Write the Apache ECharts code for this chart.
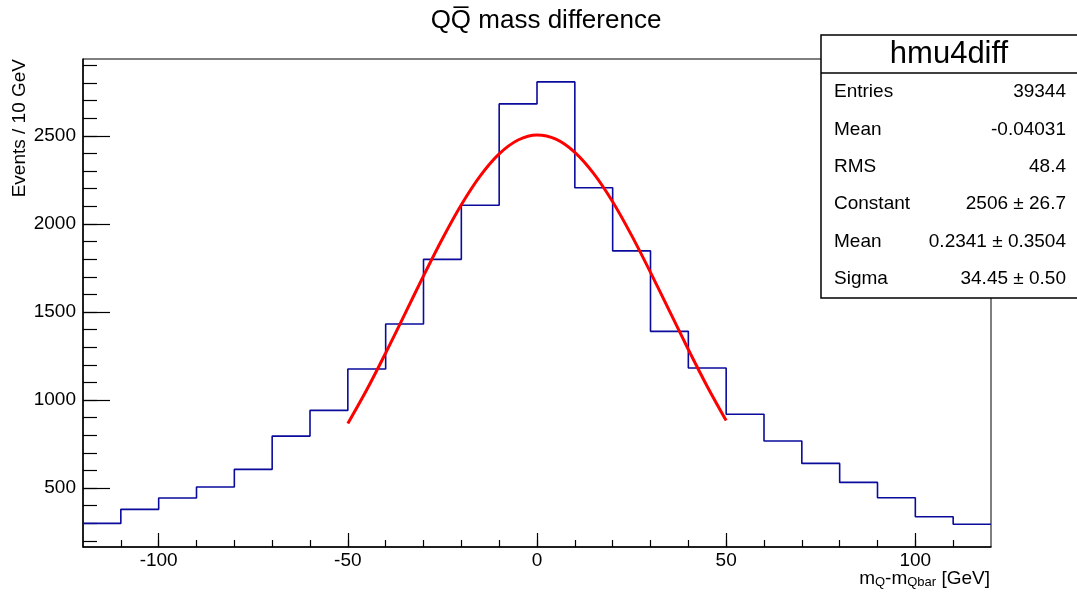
<!DOCTYPE html>
<html><head><meta charset="utf-8">
<script src="https://cdn.jsdelivr.net/npm/echarts@6/dist/echarts.min.js"></script>
<style>html,body{margin:0;padding:0;background:#fff}#c{width:1077px;height:592px}</style>
</head><body><div id="c"></div>
<script>
const binEdges = [-120,-110,-100,-90,-80,-70,-60,-50,-40,-30,-20,-10,0,10,20,30,40,50,60,70,80,90,100,110,120];
const counts = [299,379,443,506,606,795,941,1176,1432,1799,2106,2682,2807,2206,1847,1390,1182,919,767,640,532,445,337,294];
const fitX = [-50,-45,-40,-35,-30,-25,-20,-15,-10,-5,0,5,10,15,20,25,30,35,40,45,50];
const fitY = [866,1058,1267,1485,1705,1916,2109,2273,2398,2477,2506,2482,2407,2286,2126,1935,1725,1506,1287,1077,883];
const xMajorTicks = [-100,-50,0,50,100];
const xMinorTicks = [-110,-100,-90,-80,-70,-60,-50,-40,-30,-20,-10,0,10,20,30,40,50,60,70,80,90,100,110];
const yMajorTicks = [500,1000,1500,2000,2500];
const yMinorTicks = [200,300,400,500,600,700,800,900,1000,1100,1200,1300,1400,1500,1600,1700,1800,1900,2000,2100,2200,2300,2400,2500,2600,2700,2800,2900];
const statTitle = 'hmu4diff';
const statLabels = ['Entries','Mean','RMS','Constant','Mean','Sigma'];
const statValues = ['39344','-0.04031','48.4','2506 \u00b1 26.7','0.2341 \u00b1 0.3504','34.45 \u00b1 0.50'];
const chartTitle = 'QQ\u0305 mass difference';
const yTitle = 'Events / 10 GeV';

const FONT = 'Liberation Sans';
const X_MIN = -120, X_MAX = 120, Y_MIN = 165, Y_MAX = 2937;

const histPoints = binEdges.map((e, i) => [e, counts[Math.min(i, counts.length - 1)]]);
const fitPoints = fitX.map((x, i) => [x, fitY[i]]);

const chart = echarts.init(document.getElementById('c'), null, {renderer: 'canvas'});

const statGraphics = [];
statGraphics.push({type: 'rect', z: 100, shape: {x: 821, y: 35, width: 270, height: 263},
  style: {fill: '#fff', stroke: '#000', lineWidth: 1.5}});
statGraphics.push({type: 'line', z: 101, shape: {x1: 821, y1: 73, x2: 1077, y2: 73},
  style: {stroke: '#000', lineWidth: 1.5}});
statGraphics.push({type: 'text', z: 102, x: 949, y: 54,
  style: {text: statTitle, font: '31px "' + FONT + '"', fill: '#000', textAlign: 'center', textVerticalAlign: 'middle'}});
statLabels.forEach((l, i) => {
  const y = 92 + i * 37.4;
  statGraphics.push({type: 'text', z: 102, x: 834, y: y,
    style: {text: l, font: '19px "' + FONT + '"', fill: '#000', textAlign: 'left', textVerticalAlign: 'middle'}});
  statGraphics.push({type: 'text', z: 102, x: 1066, y: y,
    style: {text: statValues[i], font: '19px "' + FONT + '"', fill: '#000', textAlign: 'right', textVerticalAlign: 'middle'}});
});

const plainNum = v => String(v);

const option = {
  backgroundColor: '#fff',
  animation: false,
  grid: {left: 83, right: 86, top: 59, bottom: 45, show: true, borderColor: '#000', borderWidth: 1, backgroundColor: 'transparent'},
  xAxis: [
    {type: 'value', min: X_MIN, max: X_MAX, position: 'bottom',
     axisLine: {show: true, onZero: false, lineStyle: {color: '#000', width: 1.5}},
     axisTick: {show: true, inside: true, length: 14, customValues: xMajorTicks, lineStyle: {color: '#000', width: 1.2}},
     axisLabel: {show: true, customValues: xMajorTicks, formatter: plainNum, color: '#000', fontFamily: FONT, fontSize: 19, margin: 4},
     splitLine: {show: false}},
    {type: 'value', min: X_MIN, max: X_MAX, position: 'bottom',
     axisLine: {show: false, onZero: false},
     axisTick: {show: true, inside: true, length: 7, customValues: xMinorTicks, lineStyle: {color: '#000', width: 1.2}},
     axisLabel: {show: false},
     splitLine: {show: false}}
  ],
  yAxis: [
    {type: 'value', min: Y_MIN, max: Y_MAX, position: 'left',
     axisLine: {show: true, onZero: false, lineStyle: {color: '#000', width: 1.5}},
     axisTick: {show: true, inside: true, length: 27, customValues: yMajorTicks, lineStyle: {color: '#000', width: 1.2}},
     axisLabel: {show: true, customValues: yMajorTicks, formatter: plainNum, color: '#000', fontFamily: FONT, fontSize: 19, margin: 7},
     splitLine: {show: false}},
    {type: 'value', min: Y_MIN, max: Y_MAX, position: 'left',
     axisLine: {show: false, onZero: false},
     axisTick: {show: true, inside: true, length: 14, customValues: yMinorTicks, lineStyle: {color: '#000', width: 1.2}},
     axisLabel: {show: false},
     splitLine: {show: false}}
  ],
  series: [
    {type: 'line', name: 'hist', xAxisIndex: 0, yAxisIndex: 0, data: histPoints, step: 'end',
     showSymbol: false, symbol: 'none', lineStyle: {color: '#0a0a9c', width: 1.6}, z: 3},
    {type: 'line', name: 'fit', xAxisIndex: 0, yAxisIndex: 0, data: fitPoints, smooth: 0.3,
     showSymbol: false, symbol: 'none', lineStyle: {color: '#ff0000', width: 3}, z: 4}
  ],
  graphic: [
    {type: 'text', x: 546, y: 21,
     style: {text: chartTitle, font: '26px "' + FONT + '"', fill: '#000', textAlign: 'center', textVerticalAlign: 'middle'}},
    {type: 'text', x: 20, y: 59, rotation: Math.PI / 2,
     style: {text: yTitle, font: '19px "' + FONT + '"', fill: '#000', textAlign: 'right', textVerticalAlign: 'middle'}},
    {type: 'text', x: 990, y: 569,
     style: {text: '{n|m}{s|Q}{n|-m}{s|Qbar}{n| [GeV]}', textAlign: 'right', textVerticalAlign: 'top',
       rich: {
         n: {fontFamily: FONT, fontSize: 19, lineHeight: 20, verticalAlign: 'top', fill: '#000'},
         s: {fontFamily: FONT, fontSize: 13, lineHeight: 13, verticalAlign: 'bottom', fill: '#000'}
       }}},
    ...statGraphics
  ]
};
chart.setOption(option);
</script>
</body></html>
